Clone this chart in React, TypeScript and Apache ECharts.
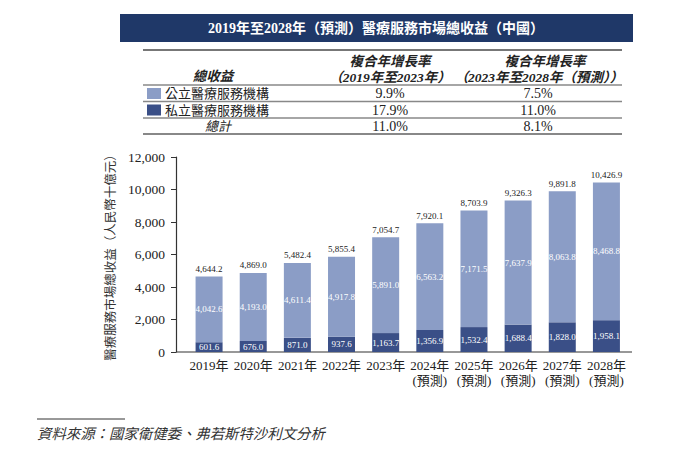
import React, { useEffect, useRef } from "react";
import * as echarts from "echarts";

const years = ["2019年", "2020年", "2021年", "2022年", "2023年", "2024年", "2025年", "2026年", "2027年", "2028年"];
const forecast = [false, false, false, false, false, true, true, true, true, true];
const publicVals = [4042.6, 4193.0, 4611.4, 4917.8, 5891.0, 6563.2, 7171.5, 7637.9, 8063.8, 8468.8];
const privateVals = [601.6, 676.0, 871.0, 937.6, 1163.7, 1356.9, 1532.4, 1688.4, 1828.0, 1958.1];
const totals = [4644.2, 4869.0, 5482.4, 5855.4, 7054.7, 7920.1, 8703.9, 9326.3, 9891.8, 10426.9];
const seriesNames = ["公立醫療服務機構", "私立醫療服務機構"];
const cagr1 = ["9.9%", "17.9%", "11.0%"];
const cagr2 = ["7.5%", "11.0%", "8.1%"];
const title = "2019年至2028年（預測）醫療服務市場總收益（中國）";
const yName = "醫療服務市場總收益（人民幣十億元）";
const source = "資料來源：國家衛健委、弗若斯特沙利文分析";

const FONT = '"Liberation Serif", "Noto Sans CJK TC", serif';
const LIGHT = "#8b9dc6";
const DARK = "#3a4f87";
const NAVY = "#1f3868";

const fmt1 = (v: number) =>
  v.toLocaleString("en-US", { minimumFractionDigits: 1, maximumFractionDigits: 1 });

export default function App() {
  const ref = useRef<HTMLDivElement>(null);
  useEffect(() => {
    document.body.style.margin = "0";
    const chart = echarts.init(ref.current!, null, { renderer: "svg" });
    const categories = years.map((y, i) => (forecast[i] ? y + "\n(預測)" : y));
    const gridLeft = 187;
    const gridTop = 157;
    const gridH = 195;
    const gridW = 441.5;
    const axisY = gridTop + gridH;

    const txt = (x: number, y: number, text: string, opts: any = {}) => ({
      type: "text",
      x,
      y,
      style: {
        text,
        font: opts.font || `14px ${FONT}`,
        fill: opts.fill || "#222",
        align: opts.align || "center",
        verticalAlign: "middle",
      },
    });
    const hline = (y: number, w: number, c: string) => ({
      type: "line",
      shape: { x1: 143, y1: y, x2: 622, y2: y },
      style: { stroke: c, lineWidth: w },
    });

    const graphic: any[] = [
      { type: "rect", shape: { x: 120, y: 14, width: 513, height: 28 }, style: { fill: NAVY } },
      txt(376, 28.5, title, { font: `bold 14px ${FONT}`, fill: "#ffffff" }),
      hline(50, 2, "#777"),
      hline(85, 1.5, "#888"),
      hline(101.5, 1.5, "#888"),
      hline(118, 1.5, "#888"),
      hline(134, 2, "#888"),
      txt(213, 76, "總收益", { font: `italic bold 13.5px ${FONT}` }),
      txt(390, 61, "複合年增長率", { font: `italic bold 13.5px ${FONT}` }),
      txt(390, 77, "（2019年至2023年）", { font: `italic bold 13.5px ${FONT}` }),
      txt(545, 61, "複合年增長率", { font: `italic bold 13.5px ${FONT}` }),
      txt(539, 77, "（2023年至2028年（預測））", { font: `italic bold 13.5px ${FONT}` }),
      { type: "rect", shape: { x: 147, y: 88, width: 14, height: 11 }, style: { fill: LIGHT } },
      { type: "rect", shape: { x: 147, y: 104.5, width: 14, height: 11 }, style: { fill: DARK } },
      txt(165, 93.5, seriesNames[0], { align: "left", font: `13px ${FONT}` }),
      txt(165, 110, seriesNames[1], { align: "left", font: `13px ${FONT}` }),
      txt(218, 126, "總計", { font: `italic 13px ${FONT}` }),
      txt(390, 93.5, cagr1[0], { font: `14px ${FONT}` }),
      txt(390, 110, cagr1[1], { font: `14px ${FONT}` }),
      txt(390, 126, cagr1[2], { font: `14px ${FONT}` }),
      txt(538, 93.5, cagr2[0], { font: `14px ${FONT}` }),
      txt(538, 110, cagr2[1], { font: `14px ${FONT}` }),
      txt(538, 126, cagr2[2], { font: `14px ${FONT}` }),
      { type: "line", shape: { x1: 176, y1: axisY, x2: 632, y2: axisY }, style: { stroke: "#333", lineWidth: 1.2 } },
      { type: "line", shape: { x1: 37, y1: 419, x2: 125, y2: 419 }, style: { stroke: "#333", lineWidth: 1 } },
      txt(37, 434, source, { align: "left", font: `italic 14.4px ${FONT}`, fill: "#333" }),
    ];

    chart.setOption({
      animation: false,
      textStyle: { fontFamily: FONT },
      grid: { left: gridLeft, top: gridTop, width: gridW, height: gridH, containLabel: false },
      xAxis: {
        type: "category",
        data: categories,
        axisLine: { show: false },
        axisTick: { show: false },
        axisLabel: { color: "#222", fontSize: 13, lineHeight: 15, margin: 6, fontFamily: FONT, interval: 0 },
      },
      yAxis: {
        type: "value",
        min: 0,
        max: 12000,
        interval: 2000,
        offset: 11,
        name: yName,
        nameLocation: "middle",
        nameRotate: 90,
        nameGap: 53,
        nameTextStyle: { fontSize: 12.5, color: "#333", fontFamily: FONT },
        axisLine: { show: true, lineStyle: { color: "#333", width: 1.2 } },
        axisTick: { show: true, length: 5, lineStyle: { color: "#333" } },
        splitLine: { show: false },
        axisLabel: {
          color: "#222",
          fontSize: 13.5,
          margin: 11,
          fontFamily: FONT,
          formatter: (v: number) => v.toLocaleString("en-US"),
        },
      },
      series: [
        {
          name: seriesNames[1],
          type: "bar",
          stack: "a",
          barWidth: 27,
          data: privateVals,
          itemStyle: { color: DARK },
          label: { show: true, position: "inside", color: "#fff", fontSize: 9, fontFamily: FONT, formatter: (p: any) => fmt1(p.value) },
        },
        {
          name: seriesNames[0],
          type: "bar",
          stack: "a",
          barWidth: 27,
          data: publicVals,
          itemStyle: { color: LIGHT },
          label: { show: true, position: "inside", color: "#fff", fontSize: 9, fontFamily: FONT, formatter: (p: any) => fmt1(p.value) },
        },
        {
          name: "總計",
          type: "bar",
          barWidth: 27,
          barGap: "-100%",
          data: totals,
          z: 0,
          itemStyle: { color: "rgba(0,0,0,0)" },
          label: { show: true, position: "top", distance: 3, color: "#222", fontSize: 9, fontFamily: FONT, formatter: (p: any) => fmt1(p.value) },
        },
      ],
      graphic,
    });
    return () => chart.dispose();
  }, []);
  return <div ref={ref} style={{ position: "absolute", left: 0, top: 0, width: 700, height: 454 }} />;
}
